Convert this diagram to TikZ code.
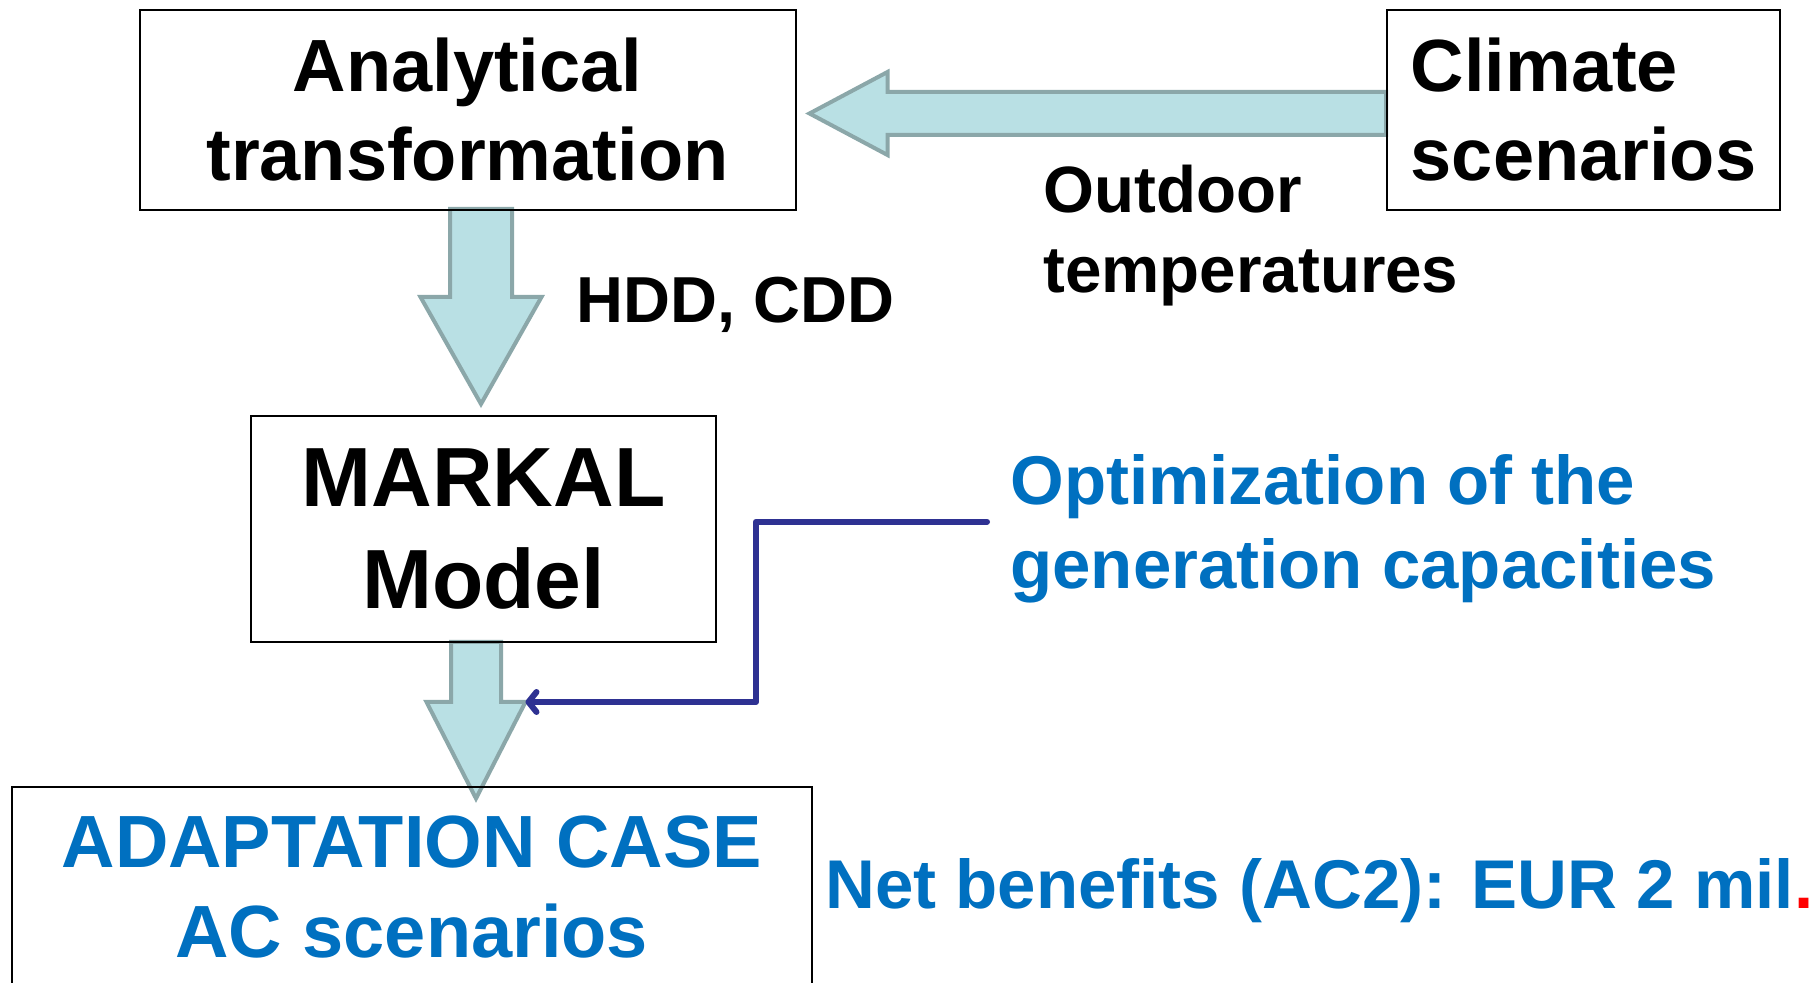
\documentclass[tikz,border=0pt]{standalone}
\usepackage{fontspec}
\setmainfont{Liberation Sans}
\usetikzlibrary{arrows.meta,backgrounds}
\definecolor{acblue}{RGB}{0,112,192}
\definecolor{fatfill}{RGB}{185,224,228}
\definecolor{fatline}{RGB}{139,167,169}
\definecolor{linknavy}{RGB}{46,49,146}
\newcommand{\fs}[2]{\fontsize{#1}{#2}\selectfont\bfseries}
% fat arrow pointing down: start, tip, half shaft, half head, head length
\newcommand{\fatdown}[5]{%
  \draw[fat] ([xshift=-#3]#1) -- ([xshift=-#3,yshift=#5]#2) -- ([xshift=-#4,yshift=#5]#2)
    -- (#2) -- ([xshift=#4,yshift=#5]#2) -- ([xshift=#3,yshift=#5]#2) -- ([xshift=#3]#1) -- cycle;}

\begin{document}
\begin{tikzpicture}[x=0.5pt,y=-0.5pt,
  box/.style={draw,line width=1pt,inner sep=0pt,align=center},
  lbl/.style={inner sep=0pt,align=left},
  fat/.style={fill=fatfill,draw=fatline,line width=2pt},
  link/.style={draw=linknavy,line width=3pt,line cap=round,line join=round,
    -{Straight Barb[length=4pt,width=10pt,round]}}]
  \useasboundingbox (0,0) rectangle (1812,983);

  \node[box,minimum width=328pt,minimum height=100pt,font=\fs{37}{44.5}] (ana) at (467.5,110)
    {Analytical\\transformation};
  \node[box,minimum width=196.5pt,minimum height=100pt,font=\fs{37}{44.5},align=left] (clim) at (1583.5,110)
    {Climate\\scenarios};
  \node[box,minimum width=232.5pt,minimum height=113pt,font=\fs{42}{51}] (mark) at (483.5,529)
    {MARKAL\\Model};
  \node[box,anchor=north,minimum width=400pt,minimum height=100pt,font=\fs{37}{45},text=acblue] (adapt) at (411.75,786)
    {ADAPTATION CASE\\AC scenarios};

  \node[lbl,anchor=base west,font=\fs{32.5}{40}] (hdd) at (576,323) {HDD, CDD};
  \node[lbl,anchor=north west,font=\fs{32.75}{40}] (outd) at (1043,165) {Outdoor\\temperatures};
  \node[lbl,anchor=north west,inner xsep=11.5pt,font=\fs{34.5}{42},text=acblue] (opt) at (987,454)
    {Optimization of the\\generation capacities};
  \node[lbl,anchor=base west,font=\fs{34.5}{42},text=acblue] (net) at (825,909)
    {Net benefits (AC2): EUR 2 mil\textcolor{red}{.}};

  \coordinate (s1) at ([xshift=6.75pt,yshift=1pt]ana.south);
  \coordinate (t1) at ([yshift=5.5pt]mark.north -| s1);
  \coordinate (s2) at ([xshift=-3.75pt,yshift=0.5pt]mark.south);
  \coordinate (t2) at ([yshift=-6.25pt]adapt.north -| s2);
  \coordinate (h2) at ([xshift=24.75pt,yshift=48.25pt]t2);
  \coordinate (s3) at ([yshift=-1.75pt]clim.west);
  \coordinate (t3) at ([xshift=6.5pt]ana.east |- s3);

  \begin{scope}[on background layer]
    \fatdown{s1}{t1}{15.5pt}{30.25pt}{53.5pt}
    \fatdown{s2}{t2}{12.5pt}{24.75pt}{48.25pt}
    \draw[fat] ([yshift=10.75pt]s3) -- ([xshift=39pt,yshift=10.75pt]t3) -- ([xshift=39pt,yshift=20.75pt]t3)
      -- (t3) -- ([xshift=39pt,yshift=-20.75pt]t3) -- ([xshift=39pt,yshift=-10.75pt]t3) -- ([yshift=-10.75pt]s3) -- cycle;
  \end{scope}

  \draw[link] ([yshift=3.5pt]opt.west) -- ++(-115.5pt,0) |- (h2);
\end{tikzpicture}
\end{document}
